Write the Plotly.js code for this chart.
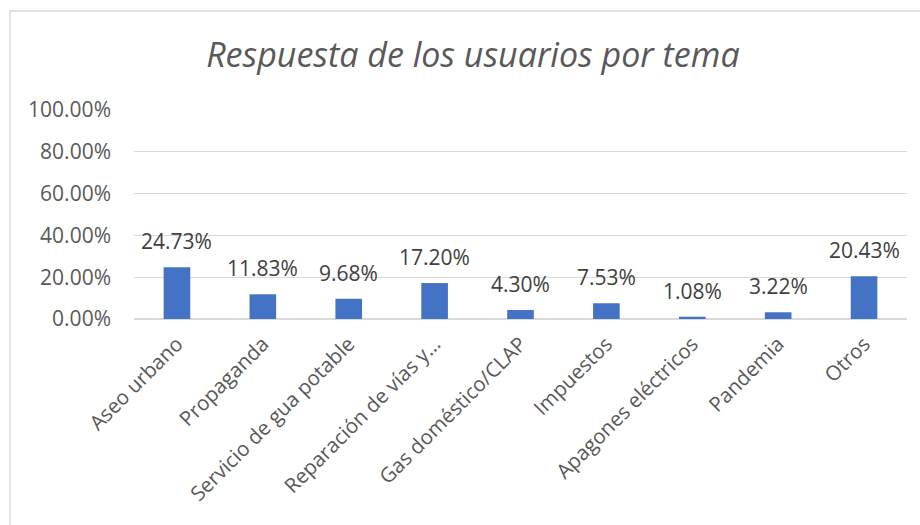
<!DOCTYPE html>
<html><head><meta charset="utf-8">
<script src="https://cdn.plot.ly/plotly-3.0.1.min.js"></script>
<style>html,body{margin:0;padding:0;background:#fff}</style>
</head><body>
<div id="chart" style="width:920px;height:525px"></div>
<script>
const categories = ["Aseo urbano","Propaganda","Servicio de gua potable","Reparación de vías y…","Gas doméstico/CLAP","Impuestos","Apagones eléctricos","Pandemia","Otros"];
const values = [0.2473,0.1183,0.0968,0.1720,0.0430,0.0753,0.0108,0.0322,0.2043];
const labels = ["24.73%","11.83%","9.68%","17.20%","4.30%","7.53%","1.08%","3.22%","20.43%"];
const FONT = "'Open Sans', sans-serif";

const trace = {
  type: "bar", x: categories, y: values,
  marker: {color: "#4472C4"},
  hoverinfo: "skip"
};
const annotations = categories.map((c, i) => ({
  x: c, y: values[i], xref: "x", yref: "y",
  text: labels[i], showarrow: false, yanchor: "middle", yshift: 26,
  font: {family: FONT, size: 21, color: "#404040"}
}));
const layout = {
  width: 920, height: 525,
  margin: {l: 134, r: 13, t: 110, b: 206},
  paper_bgcolor: "#fff", plot_bgcolor: "#fff",
  bargap: 0.69,
  title: {text: "<i>Respuesta de los usuarios por tema</i>", x: 0.514, xanchor: "center", y: 1 - 55/525, yanchor: "middle", yref: "container",
    font: {family: FONT, size: 34, color: "#595959"}},
  xaxis: {tickangle: -45, tickfont: {family: FONT, size: 20.5, color: "#595959"}, showline: false, ticks: "", showgrid: false, automargin: false, ticklabelstandoff: 8},
  yaxis: {range: [0, 1], dtick: 0.2, tickformat: ".2%", gridcolor: "#d9d9d9", gridwidth: 1.3, zeroline: true, zerolinecolor: "#d9d9d9", zerolinewidth: 1.3,
    tickfont: {family: FONT, size: 21, color: "#595959"}, ticks: "", ticklabelstandoff: 22, automargin: false, fixedrange: true},
  annotations: annotations,
  shapes: [{type: "rect", xref: "paper", yref: "paper", x0: -124/773, x1: 1.5, y0: -2, y1: 1 + 99/209, line: {color: "#d9d9d9", width: 1.3}, fillcolor: "rgba(0,0,0,0)", layer: "below"}],
  showlegend: false
};
Plotly.newPlot("chart", [trace], layout, {displayModeBar: false, staticPlot: true});
</script>
</body></html>
